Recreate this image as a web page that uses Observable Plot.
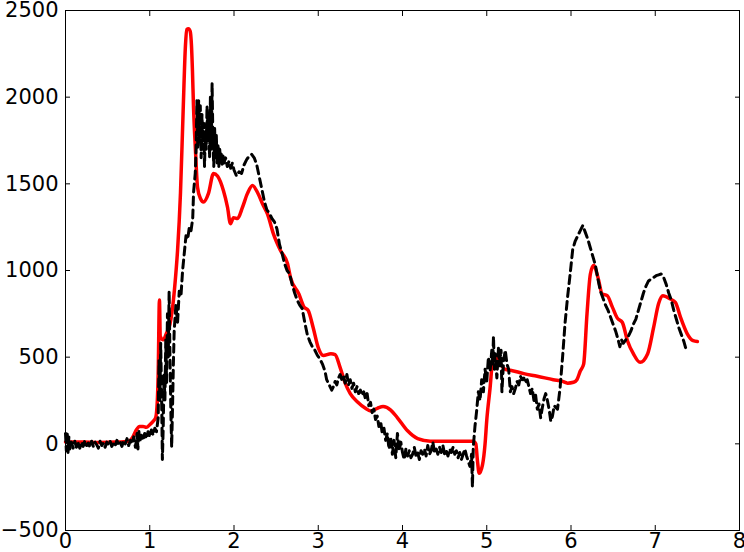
<!DOCTYPE html>
<html>
<head>
<meta charset="utf-8">
<script src="https://cdn.jsdelivr.net/npm/d3@7"></script>
<script src="https://cdn.jsdelivr.net/npm/@observablehq/plot@0.6"></script>
<style>
  html, body { margin: 0; padding: 0; background: #fff; }
</style>
</head>
<body>
<div id="chart"></div>
<script>
const xTicks = [0, 1, 2, 3, 4, 5, 6, 7, 8];
const yTicks = [-500, 0, 500, 1000, 1500, 2000, 2500];

const redX = [0,0.2,0.4,0.6,0.75,0.8,0.84,0.88,0.92,0.96,1.0,1.04,1.07,1.09,1.1,1.115,1.125,1.16,1.2,1.24,1.28,1.306,1.33,1.365,1.395,1.424,1.44,1.46,1.48,1.495,1.507,1.519,1.543,1.567,1.602,1.638,1.697,1.757,1.804,1.875,1.923,1.958,1.994,2.042,2.101,2.16,2.22,2.279,2.338,2.398,2.469,2.552,2.635,2.67,2.77,2.83,2.88,2.94,3.0,3.06,3.15,3.2,3.26,3.32,3.38,3.47,3.56,3.62,3.7,3.77,3.86,3.94,4.06,4.18,4.33,4.6,4.84,4.87,4.89,4.91,4.95,4.98,5.0,5.04,5.07,5.1,5.15,5.22,5.28,5.44,5.6,5.79,5.9,5.96,6.03,6.07,6.11,6.15,6.19,6.23,6.27,6.32,6.37,6.43,6.49,6.55,6.61,6.67,6.74,6.82,6.91,6.98,7.04,7.09,7.18,7.24,7.3,7.38,7.45,7.5];
const redY = [10,10,8,10,15,40,80,100,100,95,110,130,150,250,400,830,620,600,640,690,825,960,1115,1450,1900,2300,2390,2395,2380,2300,2150,1950,1690,1480,1415,1395,1445,1560,1545,1460,1365,1270,1305,1300,1365,1445,1490,1450,1385,1325,1210,1115,1040,960,865,790,770,670,555,510,520,515,440,350,290,240,205,190,205,215,195,150,75,30,15,15,15,0,-100,-170,-120,0,135,325,480,510,470,430,425,405,390,370,360,350,355,370,420,460,750,980,1030,960,865,855,790,725,700,595,520,470,520,670,810,855,835,815,730,635,595,590];

const blackX = [0,0.01,0.02,0.03,0.04,0.05,0.07,0.09,0.11,0.13,0.15,0.17,0.19,0.21,0.23,0.25,0.27,0.29,0.31,0.33,0.35,0.37,0.39,0.41,0.43,0.45,0.47,0.49,0.51,0.53,0.55,0.57,0.59,0.61,0.63,0.65,0.67,0.69,0.71,0.73,0.75,0.77,0.79,0.81,0.83,0.85,0.86,0.87,0.88,0.9,0.92,0.94,0.96,0.98,1.0,1.02,1.04,1.06,1.08,1.1,1.11,1.12,1.13,1.14,1.15,1.16,1.17,1.18,1.19,1.2,1.21,1.22,1.23,1.24,1.25,1.26,1.27,1.28,1.29,1.31,1.33,1.35,1.37,1.39,1.41,1.43,1.45,1.47,1.49,1.51,1.52,1.54,1.55,1.56,1.57,1.58,1.59,1.6,1.61,1.62,1.63,1.64,1.65,1.66,1.67,1.68,1.69,1.7,1.71,1.72,1.73,1.74,1.75,1.76,1.77,1.78,1.79,1.8,1.81,1.82,1.83,1.84,1.85,1.86,1.87,1.88,1.9,1.92,1.94,1.96,1.98,2.0,2.03,2.06,2.09,2.12,2.15,2.18,2.21,2.24,2.27,2.3,2.33,2.36,2.39,2.42,2.45,2.48,2.51,2.54,2.57,2.6,2.63,2.66,2.69,2.72,2.75,2.78,2.81,2.84,2.87,2.9,2.93,2.96,2.99,3.02,3.05,3.08,3.1,3.12,3.14,3.16,3.18,3.2,3.22,3.24,3.26,3.28,3.3,3.32,3.34,3.36,3.38,3.4,3.42,3.44,3.46,3.48,3.5,3.52,3.54,3.56,3.58,3.6,3.62,3.64,3.66,3.68,3.7,3.72,3.74,3.76,3.78,3.8,3.82,3.84,3.86,3.88,3.9,3.92,3.94,3.96,3.98,4.0,4.02,4.04,4.06,4.08,4.1,4.12,4.14,4.16,4.18,4.2,4.22,4.24,4.26,4.28,4.3,4.32,4.34,4.36,4.38,4.4,4.42,4.44,4.46,4.48,4.5,4.52,4.54,4.56,4.58,4.6,4.62,4.64,4.66,4.68,4.7,4.72,4.74,4.76,4.78,4.8,4.82,4.83,4.84,4.86,4.88,4.9,4.92,4.94,4.96,4.98,5.0,5.02,5.04,5.06,5.07,5.08,5.09,5.1,5.12,5.14,5.15,5.17,5.18,5.2,5.22,5.24,5.26,5.28,5.3,5.32,5.34,5.36,5.38,5.4,5.42,5.44,5.46,5.48,5.5,5.52,5.54,5.56,5.58,5.6,5.62,5.64,5.66,5.68,5.7,5.72,5.74,5.76,5.78,5.8,5.84,5.87,5.9,5.93,5.96,5.99,6.02,6.05,6.08,6.11,6.14,6.17,6.2,6.23,6.26,6.29,6.32,6.35,6.38,6.41,6.44,6.47,6.5,6.53,6.56,6.58,6.6,6.62,6.65,6.68,6.71,6.74,6.77,6.8,6.83,6.86,6.89,6.92,6.95,6.98,7.01,7.04,7.07,7.1,7.13,7.16,7.19,7.22,7.25,7.28,7.31,7.34,7.36];
const blackY = [60,-40,70,-50,40,-30,10,-25,15,-20,5,-25,10,-15,20,-10,5,-20,15,-15,10,-5,-25,15,-10,5,-20,10,-5,15,-15,5,-10,20,-5,10,-15,20,0,30,-10,20,0,40,-20,60,-30,80,10,50,20,60,30,70,40,80,50,90,70,150,480,250,580,300,-90,100,400,250,600,350,750,500,880,500,200,-20,200,450,650,800,700,880,850,1000,1100,1200,1180,1250,1230,1300,1450,1560,1700,1980,1700,1980,1750,1950,1650,1900,1700,1850,1600,1800,1700,1950,1750,1900,1650,2000,1700,2080,1750,1600,1820,1650,1780,1620,1720,1600,1700,1640,1680,1600,1660,1620,1650,1600,1630,1590,1620,1580,1545,1570,1560,1610,1640,1660,1670,1650,1610,1540,1470,1400,1350,1330,1300,1280,1240,1150,1100,1040,1000,980,920,870,830,800,780,700,630,590,560,540,510,490,460,420,370,350,330,310,330,360,340,380,400,370,390,350,400,340,370,320,350,300,330,290,310,280,300,260,290,220,240,180,200,140,160,100,130,60,90,20,60,-30,40,-60,20,-80,60,-40,10,-50,-90,-30,-70,-40,-80,-60,-20,-70,-50,-90,-40,-60,-30,-70,-10,-60,-40,10,-50,-30,-60,-20,-50,-10,-60,-40,-70,-30,-50,-20,-60,-40,-80,-50,-90,-60,-30,-70,-100,-130,-60,-250,-20,100,190,300,250,370,300,430,360,500,420,540,460,620,430,520,380,560,450,540,300,480,540,460,430,300,330,290,320,360,340,390,370,380,350,370,330,290,320,250,280,200,230,150,210,260,290,250,200,130,160,220,200,320,500,700,850,980,1120,1170,1200,1230,1260,1220,1180,1130,1080,1030,950,880,840,800,770,730,690,650,600,560,600,580,600,620,650,690,720,770,820,870,910,940,950,960,970,975,980,960,920,870,830,770,720,670,630,590,555];

const red = redX.map((x, i) => ({x, y: redY[i]}));
const black = blackX.map((x, i) => ({x, y: blackY[i]}));

const fmt = d => d < 0 ? "\u2212" + Math.abs(d) : String(d);

const chart = Plot.plot({
  width: 744,
  height: 552,
  marginLeft: 65,
  marginRight: 5,
  marginTop: 10,
  marginBottom: 22,
  style: {fontFamily: "DejaVu Sans", fontSize: "21px", color: "black", background: "white"},
  x: {domain: [0, 8], ticks: xTicks},
  y: {domain: [-500, 2500], ticks: yTicks},
  marks: [
    Plot.line(red, {x: "x", y: "y", stroke: "#ff0000", strokeWidth: 3.5, curve: "monotone-x"}),
    Plot.line(black, {x: "x", y: "y", stroke: "black", strokeWidth: 3, strokeDasharray: "8,5"}),
    Plot.frame({stroke: "black", strokeWidth: 1}),
    Plot.axisX(xTicks, {anchor: "bottom", tickSize: -5, tickFormat: () => "", label: null}),
    Plot.axisX(xTicks, {anchor: "top", tickSize: -5, tickFormat: () => "", label: null}),
    Plot.axisY(yTicks, {anchor: "left", tickSize: -5, tickFormat: () => "", label: null}),
    Plot.axisY(yTicks, {anchor: "right", tickSize: -5, tickFormat: () => "", label: null}),
    Plot.axisX(xTicks, {anchor: "bottom", tickSize: 0, tickPadding: 3, tickFormat: fmt, label: null}),
    Plot.axisY(yTicks, {anchor: "left", tickSize: 0, tickPadding: 7, tickFormat: fmt, label: null})
  ]
});
document.getElementById("chart").appendChild(chart);
</script>
</body>
</html>
